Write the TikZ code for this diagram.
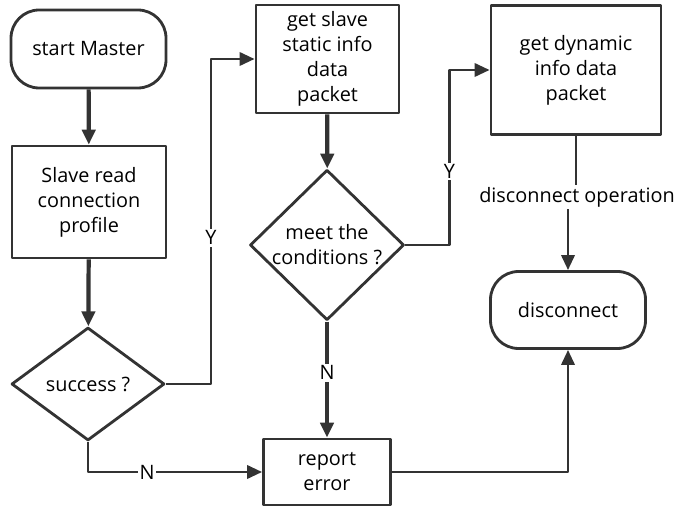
\documentclass[tikz,border=0pt]{standalone}
\usepackage{fontspec}
\setmainfont{Open Sans}
\usetikzlibrary{shapes.geometric,arrows.meta}
\definecolor{ink}{HTML}{333333}
\begin{document}
\begin{tikzpicture}[x=0.02cm, y=-0.02cm, font=\fontsize{11.3}{14.2}\selectfont, line join=round,
	>={Triangle[length=8.5pt,width=7.5pt]},
	box/.style={draw=ink, line width=1.6pt, align=center, inner sep=1pt},
	term/.style={box, rounded corners=16pt},
	decide/.style={draw=ink, line width=1.6pt, diamond, align=center, inner sep=0pt},
	flow/.style={draw=ink, line width=1.6pt, ->},
	main/.style={flow, line width=2.4pt},
	lbl/.style={fill=white, inner sep=1pt, text=black}]
	\useasboundingbox (0,0) rectangle (679,509);
	\node[term, minimum width=155*0.02cm, minimum height=78*0.02cm] (start) at (88.5,49) {start Master};
	\node[box, minimum width=154*0.02cm, minimum height=112*0.02cm] (read) at (89,202) {Slave read\\connection\\profile};
	\node[decide, minimum width=153*0.02cm, minimum height=113*0.02cm] (success) at (88,384) {success ?};
	\node[box, minimum width=143*0.02cm, minimum height=108*0.02cm] (static) at (327.5,59) {get slave\\static info\\data\\packet};
	\node[decide, minimum width=154*0.02cm, minimum height=147*0.02cm] (meet) at (327,245) {meet the\\conditions ?};
	\node[box, minimum width=127*0.02cm, minimum height=66*0.02cm] (report) at (327,472) {report\\error};
	\node[box, minimum width=170*0.02cm, minimum height=129*0.02cm] (dynamic) at (576,70) {get dynamic\\info data\\packet};
	\node[term, minimum width=155*0.02cm, minimum height=77*0.02cm] (disc) at (568,310) {disconnect};
	\node[lbl] (op) at (577,197) {disconnect operation};
	% main flow
	\draw[main] (start) -- (read);
	\draw[main] (read) -- (success);
	\draw[main] (static) -- (meet);
	\draw[main] (meet) -- node[lbl, pos=0.44]{N} (report);
	% branches
	\draw[flow] (success.east) -- ++(45,0) |- node[lbl, pos=0.225]{Y} (static.west);
	\draw[flow] (success.south) |- node[lbl, pos=0.67]{N} (report.west);
	\draw[flow] (meet.east) -- ++(44,0) |- node[lbl, pos=0.21]{Y} (dynamic.west);
	\draw[flow, -] (dynamic.south) -- (dynamic.south |- op.north);
	\draw[flow] (disc.north |- op.south) -- (disc.north);
	\draw[flow] (report.east) -| (disc.south);
\end{tikzpicture}
\end{document}
